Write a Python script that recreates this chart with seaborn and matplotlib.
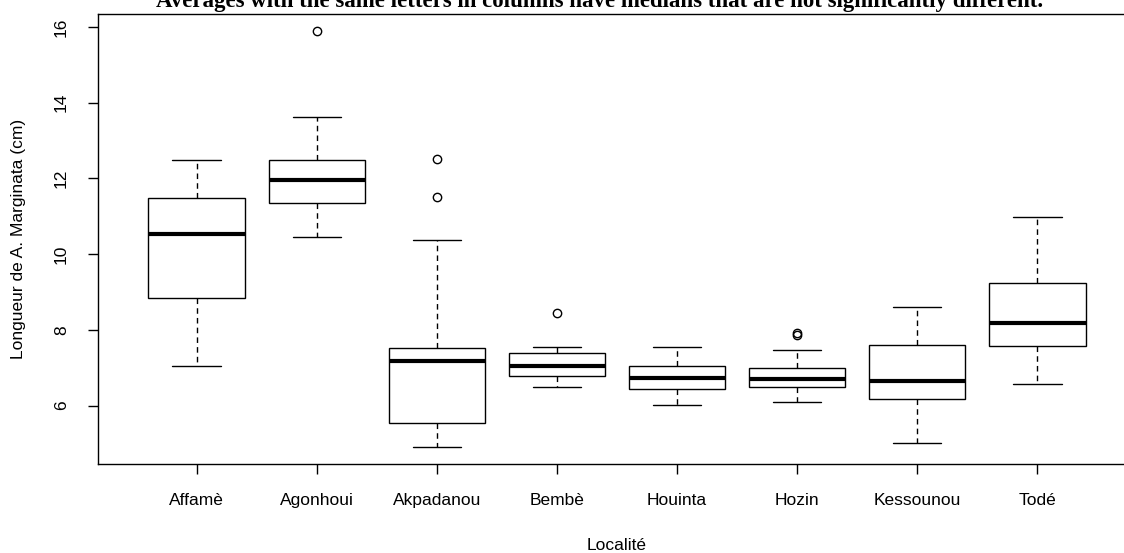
import numpy as np
import pandas as pd
import matplotlib
matplotlib.use("Agg")
import matplotlib.pyplot as plt
import seaborn as sns

# Localities and the five-number summaries of shoot length (cm)
localites = ["Affamè", "Agonhoui", "Akpadanou", "Bembè",
             "Houinta", "Hozin", "Kessounou", "Todé"]
whisker_low = [7.06, 10.44, 4.90, 6.49, 6.02, 6.09, 5.01, 6.56]
q1 = [8.84, 11.34, 5.54, 6.77, 6.44, 6.49, 6.17, 7.57]
median = [10.53, 11.95, 7.17, 7.06, 6.74, 6.71, 6.65, 8.19]
q3 = [11.47, 12.49, 7.52, 7.38, 7.05, 7.00, 7.60, 9.23]
whisker_high = [12.49, 13.62, 10.38, 7.56, 7.54, 7.47, 8.60, 10.97]
outliers = [[], [15.9], [11.5, 12.5], [8.45], [], [7.86, 7.92], [], []]

y_ticks = [6, 8, 10, 12, 14, 16]
title = ("Averages with the same letters in columns have medians "
         "that are not significantly different.")


def summary_sample(lo, a, m, b, hi, extra):
    # Ordered sample whose quartiles and whisker ends are exactly the summary
    k = len(extra) + 1
    return [lo] + [a] * k + [m] * k + [b] * k + [hi] + list(extra)


rows = []
for i, name in enumerate(localites):
    for v in summary_sample(whisker_low[i], q1[i], median[i], q3[i],
                            whisker_high[i], outliers[i]):
        rows.append({"Localité": name, "Longueur": v})
df = pd.DataFrame(rows)

sns.set_theme(style="white")
plt.rcParams["font.family"] = ["Liberation Sans", "DejaVu Sans"]

W, H = 1124, 553
fig = plt.figure(figsize=(W / 100, H / 100), dpi=100)
ax_l, ax_r, ax_t, ax_b = 98, 1136, 14, 464
ax = fig.add_axes([ax_l / W, 1 - ax_b / H, (ax_r - ax_l) / W, (ax_b - ax_t) / H])

sns.boxplot(
    data=df, x="Localité", y="Longueur", order=localites, ax=ax,
    color="white", linecolor="black", linewidth=1.0, width=0.8, whis=1.5,
    capwidths=0.4,
    medianprops={"linewidth": 3.0, "color": "black", "solid_capstyle": "butt"},
    whiskerprops={"linestyle": (0, (4, 3)), "linewidth": 1.0},
    capprops={"linewidth": 1.0},
    flierprops={"marker": "o", "markerfacecolor": "none",
                "markeredgecolor": "black", "markersize": 6,
                "markeredgewidth": 1.0},
)

ax.set_xlim(-0.82, 7.82)
ax.set_ylim(4.46, 16.34)
ax.set_yticks(y_ticks)
ax.set_yticklabels([str(t) for t in y_ticks], rotation=90, va="center")

for s in ax.spines.values():
    s.set_visible(True)
    s.set_color("black")
    s.set_linewidth(1.0)

ax.tick_params(axis="both", which="both", direction="out", length=7,
               width=1.0, color="black", labelsize=12.5, labelcolor="black",
               bottom=True, left=True)
ax.tick_params(axis="x", pad=14)
ax.tick_params(axis="y", pad=14)

ax.set_xlabel("Localité", fontsize=12.5, color="black")
ax.set_ylabel("Longueur de A. Marginata (cm)", fontsize=12.5, color="black")
ax.xaxis.set_label_coords(0.5, (ax_b - 545) / (ax_b - ax_t))
ax.xaxis.label.set_va("center")
ax.yaxis.set_label_coords((18 - ax_l) / (ax_r - ax_l), 0.5)
ax.yaxis.label.set_va("center")

fig.text(600 / W, 1 - 7 / H, title, ha="center", va="baseline",
         fontsize=16.5, fontweight="bold", family="Liberation Serif",
         color="black")

fig.savefig("out.png", dpi=100)
